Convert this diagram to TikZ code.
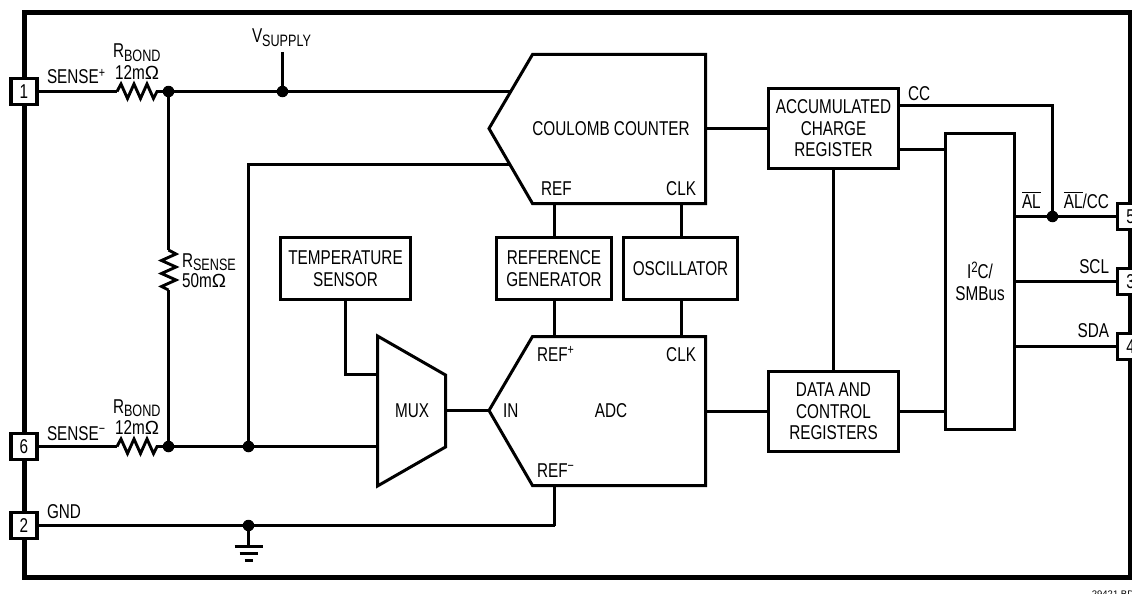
\documentclass[tikz,border=0pt]{standalone}
\usepackage{fontspec}
\setmainfont[FakeStretch=0.765]{Liberation Sans}
\newfontfamily\plainfont{Liberation Sans}
\newcommand{\sbs}[1]{\raisebox{-3.5pt}{\fontsize{16.5}{16.5}\selectfont #1}}
\newcommand{\sps}[1]{\raisebox{6.5pt}{\fontsize{14}{14}\selectfont #1}}
\newcommand{\ovl}[1]{\leavevmode\vbox{\hrule height 0.9pt\kern 1.6pt\hbox{#1}}}
\newcommand{\ohm}{{\plainfont\fontsize{19}{19}\selectfont Ω}}
\tikzset{
  wire/.style={line width=2.9pt,line cap=butt,line join=miter},
  thinwire/.style={line width=2.4pt},
  blockline/.style={line width=3pt,line join=miter,fill=white},
  regbox/.style={draw,line width=3pt,inner sep=0pt,outer sep=0pt,align=center,fill=white,
    font=\fontsize{20}{21.5}\selectfont},
  pinbox/.style={draw,line width=3.6pt,fill=white,inner sep=0pt,outer sep=0pt,
    minimum width=26pt,minimum height=26pt,font=\fontsize{20}{20}\selectfont},
  dotn/.style={circle,fill=black,inner sep=0pt,outer sep=0pt,minimum size=11.5pt},
  lab/.style={inner sep=0pt,outer sep=0pt,anchor=base west,font=\fontsize{20}{21.5}\selectfont},
  labr/.style={lab,anchor=base east},
  labc/.style={lab,anchor=base,align=center},
}
\begin{document}
\begin{tikzpicture}[x=1pt,y=-1pt]
\useasboundingbox (0,0) rectangle (1132,594);
\clip (0,0) rectangle (1132,594);
\fill[white] (0,0) rectangle (1132,594);
% frame
\draw[line width=5pt,line join=miter] (24.5,12.5) rectangle (1130.5,577.5);
% pins
\node[pinbox] (p1) at (24,91.5) {1};
\node[pinbox] (p6) at (24,446.5) {6};
\node[pinbox] (p2) at (24,525.5) {2};
\node[pinbox] (p5) at (1130.5,216.5) {5};
\node[pinbox] (p3) at (1130.5,281.5) {3};
\node[pinbox] (p4) at (1130.5,346.5) {4};
% blocks
\coordinate (ccA) at (489,128.5);
\coordinate (ccTL) at (532.5,54.5);
\coordinate (ccTR) at (705.5,54.5);
\coordinate (ccBR) at (705.5,203.5);
\coordinate (ccBL) at (532.5,203.5);
\coordinate (ccIn1) at (511,91.5);
\coordinate (ccIn2) at (511,164.5);
\coordinate (ccRef) at (554.5,203.5);
\coordinate (ccClk) at (681.5,203.5);
\coordinate (ccOut) at (705.5,128.5);
\coordinate (adA) at (489,410.5);
\coordinate (adTL) at (532.5,336.5);
\coordinate (adTR) at (705.5,336.5);
\coordinate (adBR) at (705.5,485.5);
\coordinate (adBL) at (532.5,485.5);
\coordinate (adRef) at (554.5,336.5);
\coordinate (adClk) at (681.5,336.5);
\coordinate (adRefm) at (554.5,485.5);
\coordinate (adOut) at (705.5,411.5);
\coordinate (muTL) at (377.5,336);
\coordinate (muTR) at (445.5,375);
\coordinate (muBR) at (445.5,447);
\coordinate (muBL) at (377.5,486);
\coordinate (muIn1) at (377.5,374.5);
\coordinate (muIn2) at (377.5,446.5);
\coordinate (muOut) at (445.5,410.5);
\node[regbox,minimum width=130pt,minimum height=62pt] (temp) at (345.5,268.5) {TEMPERATURE\\SENSOR};
\node[regbox,minimum width=115pt,minimum height=62pt] (refg) at (554,268.5) {REFERENCE\\GENERATOR};
\node[regbox,minimum width=114pt,minimum height=62pt] (osc) at (680.5,268.5) {OSCILLATOR};
\node[regbox,minimum width=130pt,minimum height=80pt] (acc) at (833.5,128.5) {ACCUMULATED\\CHARGE\\REGISTER};
\node[regbox,minimum width=130pt,minimum height=80pt] (dat) at (833.5,411.5) {DATA AND\\CONTROL\\REGISTERS};
\node[regbox,minimum width=69pt,minimum height=296pt] (i2c) at (980,281.5) {I\raisebox{6pt}{\fontsize{15}{15}\selectfont 2}C/\\SMBus};
\draw[blockline] (ccA) -- (ccTL) -- (ccTR) -- (ccBR) -- (ccBL) -- cycle;
\draw[blockline] (adA) -- (adTL) -- (adTR) -- (adBR) -- (adBL) -- cycle;
\draw[blockline] (muTL) -- (muTR) -- (muBR) -- (muBL) -- cycle;
% junctions
\node[dotn] (jtop) at (168.5,91.5) {};
\node[dotn] (jsup) at (282.5,91.5) {};
\node[dotn] (jbot) at (168.5,446.5) {};
\node[dotn] (jfb) at (248.5,446.5) {};
\node[dotn] (jgnd) at (248.5,525.5) {};
\node[dotn] (jal) at (1052.5,216.5) {};
\coordinate (vsup) at (282.5,52);
\coordinate (gtop) at (248.5,546);
% bond resistor ends
\coordinate (r1a) at (117,91.5);
\coordinate (r1b) at (157,91.5);
\coordinate (r2a) at (117,446.5);
\coordinate (r2b) at (157,446.5);
\coordinate (rsa) at (168.5,250);
\coordinate (rsb) at (168.5,290);
% wires
\begin{scope}[wire]
\draw[thinwire] (p1.east) -- (r1a);
\draw (r1a) -- ++(4,-7.5) -- ++(6.5,14.5) -- ++(6.5,-14.5) -- ++(6.5,14.5) -- ++(6.5,-14.5) -- ++(6.5,14.5) -- (r1b) -- (jtop.center);
\draw[thinwire] (p6.east) -- (r2a);
\draw (r2a) -- ++(4,-7.5) -- ++(6.5,14.5) -- ++(6.5,-14.5) -- ++(6.5,14.5) -- ++(6.5,-14.5) -- ++(6.5,14.5) -- (r2b) -- (jbot.center);
\draw (jtop.center) -- (jsup.center) -- (ccIn1);
\draw (vsup) -- (jsup.center);
\draw (jtop.center) -- (rsa);
\draw (rsa) -- ++(7.5,4) -- ++(-14.5,6.5) -- ++(14.5,6.5) -- ++(-14.5,6.5) -- ++(14.5,6.5) -- ++(-14.5,6.5) -- (rsb);
\draw (rsb) -- (jbot.center);
\draw (jbot.center) -- (jfb.center) -- (muIn2);
\draw (jfb.center) |- (ccIn2);
\draw[thinwire] (p2.east) -- (jgnd.center) -- (jgnd.center -| adRefm);
\draw (jgnd.center -| adRefm) -- (adRefm);
\draw (jgnd.center) -- (gtop);
\draw (ccRef) -- (ccRef |- refg.north);
\draw (ccClk) -- (ccClk |- osc.north);
\draw (adRef) -- (adRef |- refg.south);
\draw (adClk) -- (adClk |- osc.south);
\draw (ccOut) -- (ccOut -| acc.west);
\draw (adOut) -- (adOut -| dat.west);
\draw (acc.south) -- (dat.north);
\draw (temp.south) |- (muIn1);
\draw (muOut) -- (adA);
\draw (acc.east |- 0,105.5) -| (jal.center);
\draw (acc.east |- 0,149.5) -- (i2c.west |- 0,149.5);
\draw (dat.east |- 0,411.5) -- (i2c.west |- 0,411.5);
\draw[thinwire] (i2c.east |- jal) -- (jal.center) -- (p5.west);
\draw (i2c.east |- p3) -- (p3.west);
\draw (i2c.east |- p4) -- (p4.west);
\end{scope}
% ground
\draw[line width=3pt] (234.5,546.5) -- (262.5,546.5);
\draw[line width=3pt] (239.5,553.5) -- (257.5,553.5);
\draw[line width=3pt] (244.5,560.5) -- (252.5,560.5);
% labels
\node[lab] (t1) at (47,84) {SENSE\sps{+}};
\node[lab] (t2) at (113,58) {R\sbs{BOND}};
\node[lab] (t3) at (115,79) {12m\ohm};
\node[lab] (t4) at (252,43) {V\sbs{SUPPLY}};
\node[lab] (t5) at (182,267) {R\sbs{SENSE}};
\node[lab] (t6) at (182,287) {50m\ohm};
\node[lab] (t7) at (47,440) {SENSE\sps{−}};
\node[lab] (t8) at (113,413) {R\sbs{BOND}};
\node[lab] (t9) at (115,434) {12m\ohm};
\node[lab] (t10) at (47,518) {GND};
\node[labc] (t11) at (611,135) {COULOMB COUNTER};
\node[lab] (t12) at (541,195) {REF};
\node[labr] (t13) at (696,195) {CLK};
\node[lab] (t14) at (537,361) {REF\sps{+}};
\node[labr] (t15) at (696,361) {CLK};
\node[lab] (t16) at (503,417) {IN};
\node[labc] (t17) at (611,417) {ADC};
\node[lab] (t18) at (537,477) {REF\sps{−}};
\node[labc] (t19) at (412,417) {MUX};
\node[lab] (t20) at (908,100) {CC};
\node[lab] (t21) at (1022,208) {\ovl{AL}};
\node[labr] (t22) at (1109,208) {\ovl{AL}/CC};
\node[labr] (t23) at (1109,273) {SCL};
\node[labr] (t24) at (1109,337) {SDA};
\node[inner sep=0pt,anchor=base,font=\plainfont\fontsize{9.5}{9.5}\selectfont] (t25) at (1113,597) {29421 BD};
\end{tikzpicture}
\end{document}
